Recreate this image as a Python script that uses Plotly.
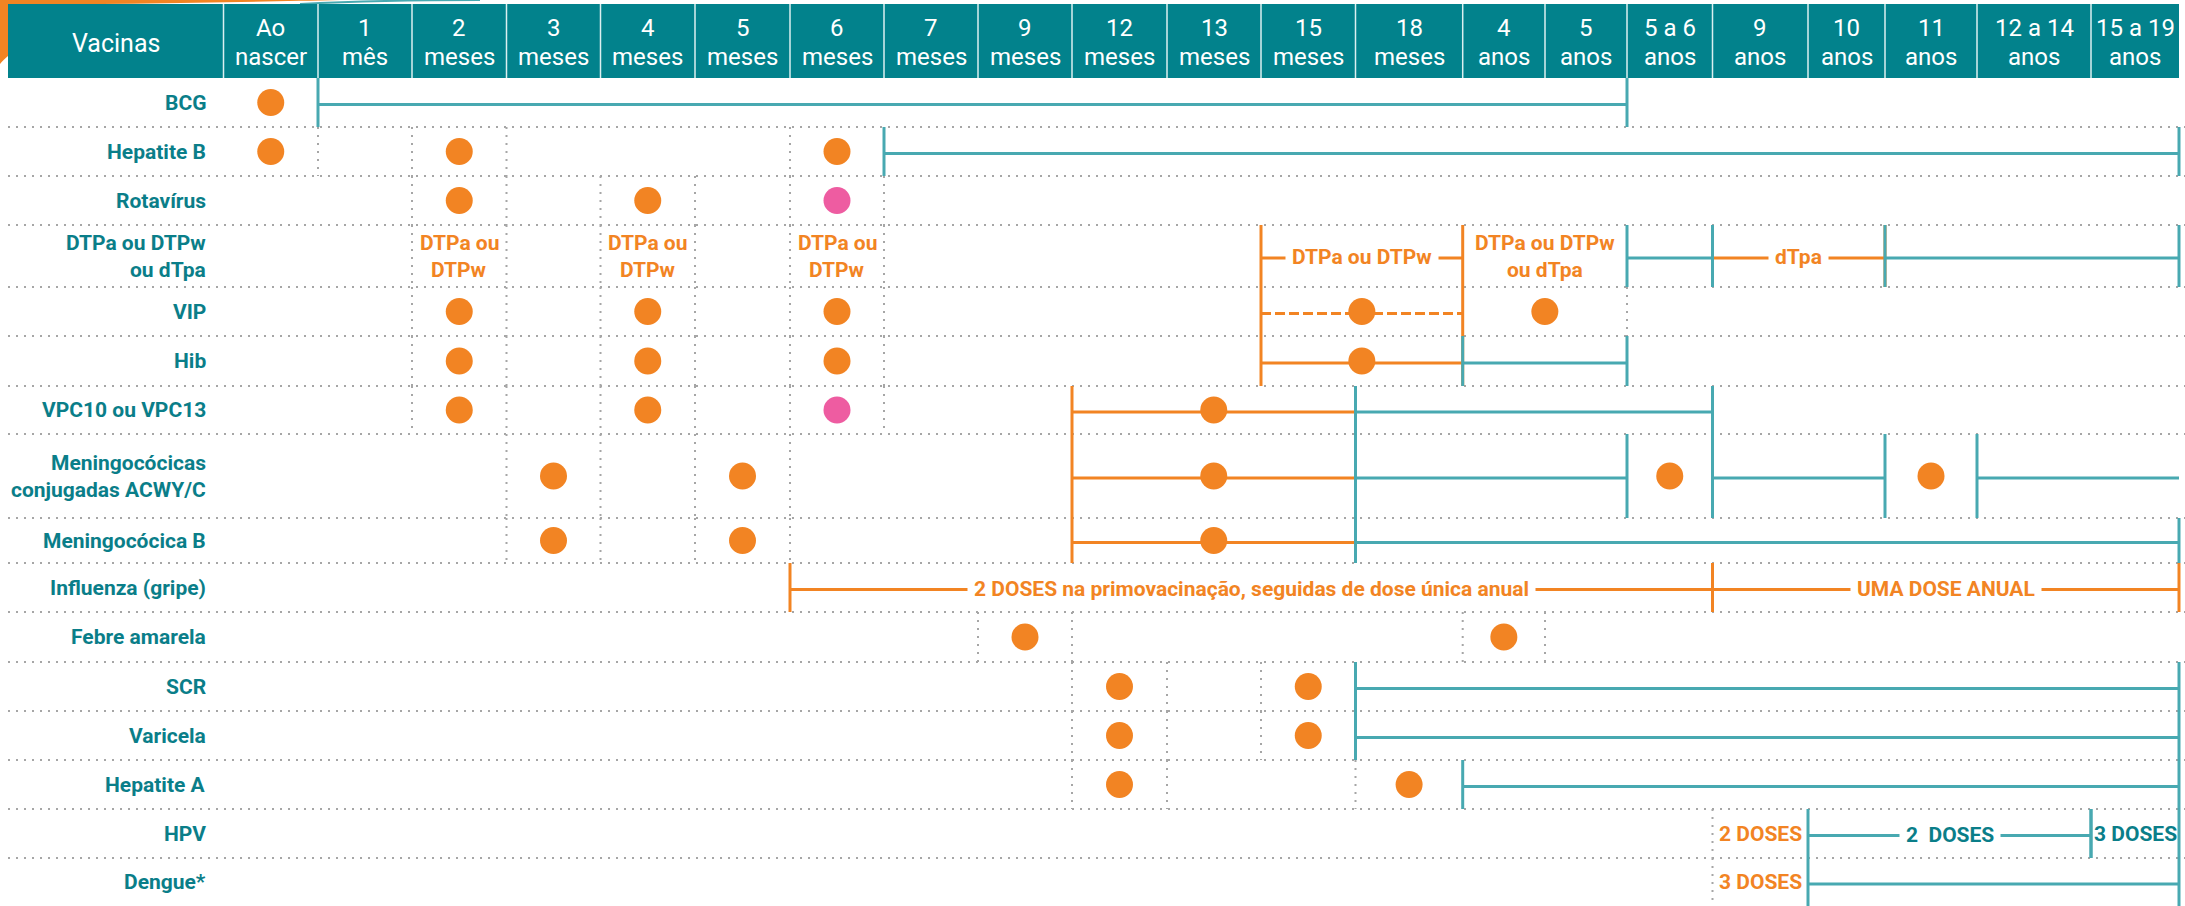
import plotly.graph_objects as go

# ---------------- DATA ----------------
HEADER_TOP = ["Ao", "1", "2", "3", "4", "5", "6", "7", "9", "12", "13", "15", "18",
              "4", "5", "5 a 6", "9", "10", "11", "12 a 14", "15 a 19"]
HEADER_BOTTOM = ["nascer", "mês"] + ["meses"] * 11 + ["anos"] * 8
HEADER_FIRST = "Vacinas"

VACCINES = ["BCG", "Hepatite B", "Rotavírus", "DTPa ou DTPw\nou dTpa", "VIP", "Hib",
            "VPC10 ou VPC13", "Meningocócicas\nconjugadas ACWY/C", "Meningocócica B",
            "Influenza (gripe)", "Febre amarela", "SCR", "Varicela", "Hepatite A",
            "HPV", "Dengue*"]

# doses: (vaccine, first column, last column, kind)   kind: "std" orange, "alt" pink
DOSES = [
    ("BCG", "Ao nascer", "Ao nascer", "std"),
    ("Hepatite B", "Ao nascer", "Ao nascer", "std"),
    ("Hepatite B", "2 meses", "2 meses", "std"),
    ("Hepatite B", "6 meses", "6 meses", "std"),
    ("Rotavírus", "2 meses", "2 meses", "std"),
    ("Rotavírus", "4 meses", "4 meses", "std"),
    ("Rotavírus", "6 meses", "6 meses", "alt"),
    ("VIP", "2 meses", "2 meses", "std"),
    ("VIP", "4 meses", "4 meses", "std"),
    ("VIP", "6 meses", "6 meses", "std"),
    ("VIP", "15 meses", "18 meses", "std"),
    ("VIP", "4 anos", "5 anos", "std"),
    ("Hib", "2 meses", "2 meses", "std"),
    ("Hib", "4 meses", "4 meses", "std"),
    ("Hib", "6 meses", "6 meses", "std"),
    ("Hib", "15 meses", "18 meses", "std"),
    ("VPC10 ou VPC13", "2 meses", "2 meses", "std"),
    ("VPC10 ou VPC13", "4 meses", "4 meses", "std"),
    ("VPC10 ou VPC13", "6 meses", "6 meses", "alt"),
    ("VPC10 ou VPC13", "12 meses", "15 meses", "std"),
    ("Meningocócicas\nconjugadas ACWY/C", "3 meses", "3 meses", "std"),
    ("Meningocócicas\nconjugadas ACWY/C", "5 meses", "5 meses", "std"),
    ("Meningocócicas\nconjugadas ACWY/C", "12 meses", "15 meses", "std"),
    ("Meningocócicas\nconjugadas ACWY/C", "5 a 6 anos", "5 a 6 anos", "std"),
    ("Meningocócicas\nconjugadas ACWY/C", "11 anos", "11 anos", "std"),
    ("Meningocócica B", "3 meses", "3 meses", "std"),
    ("Meningocócica B", "5 meses", "5 meses", "std"),
    ("Meningocócica B", "12 meses", "15 meses", "std"),
    ("Febre amarela", "9 meses", "9 meses", "std"),
    ("Febre amarela", "4 anos", "4 anos", "std"),
    ("SCR", "12 meses", "12 meses", "std"),
    ("SCR", "15 meses", "15 meses", "std"),
    ("Varicela", "12 meses", "12 meses", "std"),
    ("Varicela", "15 meses", "15 meses", "std"),
    ("Hepatite A", "12 meses", "12 meses", "std"),
    ("Hepatite A", "18 meses", "18 meses", "std"),
]

# text cells: (vaccine, first column, last column, text, colour kind)
CELL_TEXTS = [
    ("DTPa ou DTPw\nou dTpa", "2 meses", "2 meses", "DTPa ou\nDTPw", "orange"),
    ("DTPa ou DTPw\nou dTpa", "4 meses", "4 meses", "DTPa ou\nDTPw", "orange"),
    ("DTPa ou DTPw\nou dTpa", "6 meses", "6 meses", "DTPa ou\nDTPw", "orange"),
    ("DTPa ou DTPw\nou dTpa", "4 anos", "5 anos", "DTPa ou DTPw\nou dTpa", "orange"),
    ("HPV", "9 anos", "9 anos", "2 DOSES", "orange"),
    ("HPV", "15 a 19 anos", "15 a 19 anos", "3 DOSES", "teal"),
    ("Dengue*", "9 anos", "9 anos", "3 DOSES", "orange"),
]

# spans: (vaccine, from column, to column, line colour, dash, label, label colour, draw line, end bar)
SPANS = [
    ("BCG", "1 mês", "5 anos", "teal", "solid", "", "", True, True),
    ("Hepatite B", "7 meses", "15 a 19 anos", "teal", "solid", "", "", True, True),
    ("DTPa ou DTPw\nou dTpa", "15 meses", "18 meses", "orange", "solid", "DTPa ou DTPw", "orange", True, True),
    ("DTPa ou DTPw\nou dTpa", "9 anos", "10 anos", "orange", "solid", "dTpa", "orange", True, True),
    ("DTPa ou DTPw\nou dTpa", "5 a 6 anos", "5 a 6 anos", "teal", "solid", "", "", True, True),
    ("DTPa ou DTPw\nou dTpa", "11 anos", "15 a 19 anos", "teal", "solid", "", "", True, True),
    ("VIP", "15 meses", "18 meses", "orange", "dash", "", "", True, True),
    ("Hib", "15 meses", "18 meses", "orange", "solid", "", "", True, True),
    ("Hib", "4 anos", "5 anos", "teal", "solid", "", "", True, True),
    ("VPC10 ou VPC13", "12 meses", "15 meses", "orange", "solid", "", "", True, True),
    ("VPC10 ou VPC13", "18 meses", "5 a 6 anos", "teal", "solid", "", "", True, True),
    ("Meningocócicas\nconjugadas ACWY/C", "12 meses", "15 meses", "orange", "solid", "", "", True, True),
    ("Meningocócicas\nconjugadas ACWY/C", "18 meses", "5 anos", "teal", "solid", "", "", True, True),
    ("Meningocócicas\nconjugadas ACWY/C", "9 anos", "10 anos", "teal", "solid", "", "", True, True),
    ("Meningocócicas\nconjugadas ACWY/C", "12 a 14 anos", "15 a 19 anos", "teal", "solid", "", "", True, False),
    ("Meningocócica B", "12 meses", "15 meses", "orange", "solid", "", "", True, True),
    ("Meningocócica B", "18 meses", "15 a 19 anos", "teal", "solid", "", "", True, True),
    ("Influenza (gripe)", "6 meses", "5 a 6 anos", "orange", "solid",
     "2 DOSES na primovacinação, seguidas de dose única anual", "orange", True, True),
    ("Influenza (gripe)", "9 anos", "15 a 19 anos", "orange", "solid", "UMA DOSE ANUAL", "orange", True, True),
    ("SCR", "18 meses", "15 a 19 anos", "teal", "solid", "", "", True, True),
    ("Varicela", "18 meses", "15 a 19 anos", "teal", "solid", "", "", True, True),
    ("Hepatite A", "4 anos", "15 a 19 anos", "teal", "solid", "", "", True, True),
    ("HPV", "10 anos", "12 a 14 anos", "teal", "solid", "2  DOSES", "teal", True, True),
    ("HPV", "15 a 19 anos", "15 a 19 anos", "teal", "solid", "", "", False, True),
    ("Dengue*", "10 anos", "15 a 19 anos", "teal", "solid", "", "", True, True),
]

# ---------------- LAYOUT / STYLE ----------------
W, H = 2185, 906
COL_EDGES = [223.5, 318, 412, 506.5, 600.5, 695, 790, 884, 978, 1072, 1167, 1261, 1355.5,
             1462.7, 1545, 1627, 1712.5, 1808, 1885, 1977, 2091, 2179]
ROW_EDGES = [78, 127, 176, 225, 287, 336, 386, 434, 518, 563, 612, 662, 711, 760, 809, 858, 906]
HEAD_TOP, HEAD_LEFT = 4, 8
LABEL_RIGHT = 208

HEAD_FILL = "#02828C"
TEXT_TEAL = "#0A7E89"
LINE_TEAL = "#48A9B1"
ORANGE = "#F28423"
PINK = "#EE5CA1"
DOT_GRAY = "#A6A6A6"
COLORS = {"teal": LINE_TEAL, "orange": ORANGE}
TXT_COLORS = {"teal": TEXT_TEAL, "orange": ORANGE}

FONT = "Roboto, Liberation Sans, sans-serif"
HEAD_SIZE = 24
LABEL_SIZE = 21
CELL_SIZE = 21

COL_KEYS = [f"{t} {b}" for t, b in zip(HEADER_TOP, HEADER_BOTTOM)]


def ci(key):
    return COL_KEYS.index(key)


def xmid(a, b):
    return (COL_EDGES[ci(a)] + COL_EDGES[ci(b) + 1]) / 2


def rbounds(v):
    r = VACCINES.index(v)
    return ROW_EDGES[r], ROW_EDGES[r + 1]


def rmid(v):
    a, b = rbounds(v)
    return (a + b) / 2


fig = go.Figure()
shapes, ann = [], []

# decorative swoosh behind header
shapes.append(dict(type="path", xref="x", yref="y",
                   path="M0,0 L340,0 C250,2 120,4 8,5 L8,56 C5,59 2,61 0,64 Z",
                   fillcolor=ORANGE, line=dict(width=0), layer="below"))
shapes.append(dict(type="path", xref="x", yref="y", path="M300,4 C360,1 420,0 480,0",
                   line=dict(color=LINE_TEAL, width=2), layer="below"))

# header
shapes.append(dict(type="rect", xref="x", yref="y", x0=HEAD_LEFT, x1=COL_EDGES[-1],
                   y0=HEAD_TOP, y1=ROW_EDGES[0], fillcolor=HEAD_FILL, line=dict(width=0)))
for e in COL_EDGES[:-1]:
    shapes.append(dict(type="line", xref="x", yref="y", x0=e, x1=e, y0=HEAD_TOP, y1=ROW_EDGES[0],
                       line=dict(color="#DCEFF0", width=1.5)))
ann.append(dict(x=(HEAD_LEFT + COL_EDGES[0]) / 2, y=43, text=HEADER_FIRST, showarrow=False,
                font=dict(family=FONT, size=25, color="white"), xanchor="center", yanchor="middle"))
for i, (t, b) in enumerate(zip(HEADER_TOP, HEADER_BOTTOM)):
    xc = (COL_EDGES[i] + COL_EDGES[i + 1]) / 2
    ann.append(dict(x=xc, y=27.5, text=t, showarrow=False,
                    font=dict(family=FONT, size=HEAD_SIZE, color="white"), xanchor="center", yanchor="middle"))
    ann.append(dict(x=xc, y=57, text=b, showarrow=False,
                    font=dict(family=FONT, size=HEAD_SIZE, color="white"), xanchor="center", yanchor="middle"))

# vaccine labels
for v in VACCINES:
    lines = v.split("\n")
    m = rmid(v)
    for k, ln in enumerate(lines):
        ann.append(dict(x=LABEL_RIGHT, y=m + (k - (len(lines) - 1) / 2) * 27, text=f"<b>{ln}</b>",
                        showarrow=False, font=dict(family=FONT, size=LABEL_SIZE, color=TEXT_TEAL),
                        xanchor="right", yanchor="middle"))

# dotted horizontal row separators
hx, hy = [], []
for e in ROW_EDGES[1:-1]:
    hx += [HEAD_LEFT, W, None]
    hy += [e, e, None]

# solid edges per row (bars of spans)
solid = {v: set() for v in VACCINES}
for (v, a, b, col, dash, lab, lcol, draw, endbar) in SPANS:
    solid[v].add(ci(a))
    if endbar:
        solid[v].add(ci(b) + 1)

# dotted vertical edges around dose / text cells
dotted = {v: set() for v in VACCINES}
for (v, a, b, *_rest) in DOSES + [(c[0], c[1], c[2]) for c in CELL_TEXTS]:
    for e in (ci(a), ci(b) + 1):
        if e != 0 and e not in solid[v]:
            dotted[v].add(e)
for v in VACCINES:
    y0, y1 = rbounds(v)
    for e in sorted(dotted[v]):
        hx += [COL_EDGES[e], COL_EDGES[e], None]
        hy += [y0, y1, None]

fig.add_trace(go.Scatter(x=hx, y=hy, mode="lines", hoverinfo="skip",
                         line=dict(color=DOT_GRAY, width=2, dash="2px,6px")))

# span lines: orange first, teal on top
for colour in ["orange", "teal"]:
    for style in ["solid", "dash"]:
        lx, ly, vx, vy = [], [], [], []
        for (v, a, b, col, dash, lab, lcol, draw, endbar) in SPANS:
            if col != colour:
                continue
            y0, y1 = rbounds(v)
            ym = (y0 + y1) / 2 + 2
            xa, xb = COL_EDGES[ci(a)], COL_EDGES[ci(b) + 1]
            if draw and dash == style:
                lx += [xa, xb, None]
                ly += [ym, ym, None]
            if style == "solid":
                vx += [xa, xa, None]
                vy += [y0, y1, None]
                if endbar:
                    vx += [xb, xb, None]
                    vy += [y0, y1, None]
        if lx:
            fig.add_trace(go.Scatter(x=lx, y=ly, mode="lines", hoverinfo="skip",
                                     line=dict(color=COLORS[colour], width=3,
                                               dash="10px,4px" if style == "dash" else "solid")))
        if vx:
            fig.add_trace(go.Scatter(x=vx, y=vy, mode="lines", hoverinfo="skip",
                                     line=dict(color=COLORS[colour], width=3)))

# span labels (white background hides the line behind the text)
for (v, a, b, col, dash, lab, lcol, draw, endbar) in SPANS:
    if lab:
        ann.append(dict(x=xmid(a, b), y=rmid(v) + 1, text=f"<b>{lab}</b>", showarrow=False,
                        font=dict(family=FONT, size=CELL_SIZE, color=TXT_COLORS[lcol]),
                        bgcolor="white", borderpad=6, xanchor="center", yanchor="middle"))

# cell texts
for (v, a, b, txt, c) in CELL_TEXTS:
    lines = txt.split("\n")
    m = rmid(v)
    for k, ln in enumerate(lines):
        ann.append(dict(x=xmid(a, b), y=m + (k - (len(lines) - 1) / 2) * 27, text=f"<b>{ln}</b>",
                        showarrow=False, font=dict(family=FONT, size=CELL_SIZE, color=TXT_COLORS[c]),
                        xanchor="center", yanchor="middle"))

# dose dots
for kind, colr in [("std", ORANGE), ("alt", PINK)]:
    dx = [xmid(a, b) for (v, a, b, k) in DOSES if k == kind]
    dy = [rmid(v) for (v, a, b, k) in DOSES if k == kind]
    fig.add_trace(go.Scatter(x=dx, y=dy, mode="markers", hoverinfo="skip",
                             marker=dict(size=27, color=colr, line=dict(width=0))))

fig.update_layout(
    width=W, height=H, margin=dict(l=0, r=0, t=0, b=0),
    paper_bgcolor="white", plot_bgcolor="white", showlegend=False,
    xaxis=dict(range=[0, W], visible=False, fixedrange=True),
    yaxis=dict(range=[H, 0], visible=False, fixedrange=True),
    shapes=shapes, annotations=ann,
)
fig.write_html("out.html", config={"displayModeBar": False},
               post_script="document.body.style.margin='0';document.body.style.overflow='hidden';")
